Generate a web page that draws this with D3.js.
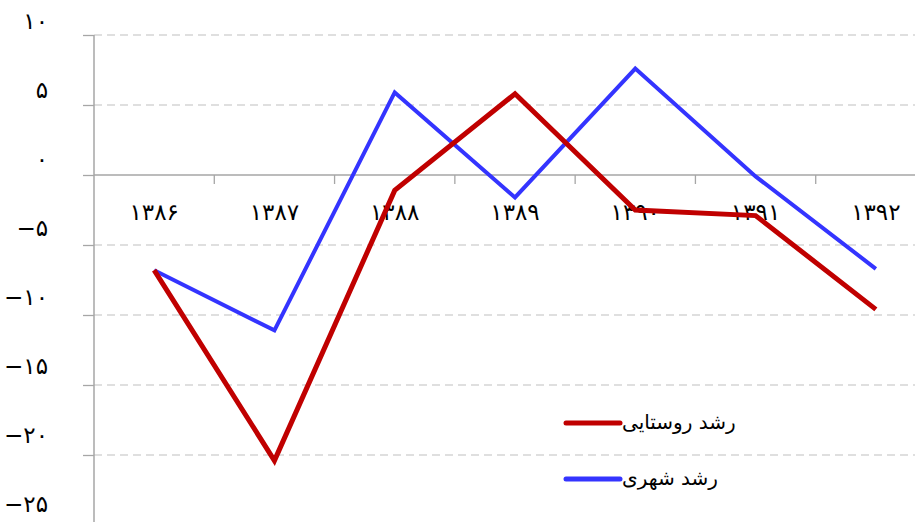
<!DOCTYPE html>
<html>
<head>
<meta charset="utf-8">
<script src="https://cdn.jsdelivr.net/npm/d3@7"></script>
<style>
  body { margin: 0; background: #fff; }
  svg { display: block; font-family: "DejaVu Sans", sans-serif; }
</style>
</head>
<body>
<svg id="chart" width="915" height="522"></svg>
<script>
// Years (Persian digits) and the two growth series.
var years = ["۱۳۸۶", "۱۳۸۷", "۱۳۸۸", "۱۳۸۹", "۱۳۹۰", "۱۳۹۱", "۱۳۹۲"];
var rural = [-6.8, -20.4, -1.1, 5.8, -2.5, -2.9, -9.6];
var urban = [-6.8, -11.1, 5.9, -1.6, 7.6, -0.1, -6.7];
var yTicks = [10, 5, 0, -5, -10, -15, -20, -25];
var yTickLabels = ["۱۰", "۵", "۰", "−۵", "−۱۰", "−۱۵", "−۲۰", "−۲۵"];
var seriesNames = ["رشد روستایی", "رشد شهری"];
var seriesColors = ["#c00000", "#3434ff"];

var svg = d3.select("#chart");

// Band scale runs past the right edge of the picture (it is clipped there).
var x = d3.scaleBand().domain(years).range([94, 936]);
var y = d3.scaleLinear().domain([-25, 10]).range([525, 35]);
// the tick labels sit a little above their grid lines, spaced slightly tighter
var yLabel = d3.scaleLinear().domain([-25, 10]).range([505, 22]);

// dashed grid lines
svg.append("g")
  .selectAll("line")
  .data(yTicks.filter(function(d){ return d != 0; }))
  .enter().append("line")
  .attr("x1", 94).attr("x2", 915)
  .attr("y1", function(d){ return y(d); })
  .attr("y2", function(d){ return y(d); })
  .attr("stroke", "#c0c0c0")
  .attr("stroke-width", 1.2)
  .attr("stroke-dasharray", "8,5");

// y axis
var yAxis = d3.axisLeft(y)
  .tickValues(yTicks)
  .tickSize(11)
  .tickFormat("");
var yg = svg.append("g").attr("transform", "translate(94,0)").call(yAxis);
yg.select(".domain").remove();
yg.selectAll(".tick line").attr("stroke", "#a6a6a6").attr("stroke-width", 1.3);
yg.append("line")
  .attr("x1", 0).attr("x2", 0)
  .attr("y1", y(10)).attr("y2", 522)
  .attr("stroke", "#a6a6a6").attr("stroke-width", 1.5);

svg.append("g")
  .selectAll("text")
  .data(yTicks)
  .enter().append("text")
  .attr("x", 48)
  .attr("y", function(d){ return yLabel(d); })
  .attr("text-anchor", "end")
  .attr("dominant-baseline", "middle")
  .style("font-size", "23px")
  .style("direction", "ltr")
  .text(function(d, i){ return yTickLabels[i]; });

// x axis on the zero line, ticks at band boundaries
var xg = svg.append("g");
xg.append("line")
  .attr("x1", 94).attr("x2", 915)
  .attr("y1", y(0)).attr("y2", y(0))
  .attr("stroke", "#a6a6a6").attr("stroke-width", 1.5);
xg.selectAll(".xtick")
  .data(years.slice(1))
  .enter().append("line")
  .attr("class", "xtick")
  .attr("x1", function(d){ return x(d); })
  .attr("x2", function(d){ return x(d); })
  .attr("y1", y(0)).attr("y2", y(0) + 9)
  .attr("stroke", "#a6a6a6").attr("stroke-width", 1.3);
xg.selectAll(".xlabel")
  .data(years)
  .enter().append("text")
  .attr("class", "xlabel")
  .attr("x", function(d){ return x(d) + x.bandwidth() / 2; })
  .attr("y", 213)
  .attr("text-anchor", "middle")
  .attr("dominant-baseline", "middle")
  .style("font-size", "23px")
  .text(function(d){ return d; });

// lines
var line = d3.line()
  .x(function(d, i){ return x(years[i]) + x.bandwidth() / 2; })
  .y(function(d){ return y(d); });

svg.append("path")
  .datum(urban)
  .attr("d", line)
  .attr("fill", "none")
  .attr("stroke", seriesColors[1])
  .attr("stroke-width", 4)
  .attr("stroke-linejoin", "miter");

svg.append("path")
  .datum(rural)
  .attr("d", line)
  .attr("fill", "none")
  .attr("stroke", seriesColors[0])
  .attr("stroke-width", 5)
  .attr("stroke-linejoin", "miter");

// legend
var legend = svg.append("g")
  .selectAll("g")
  .data(seriesNames)
  .enter().append("g")
  .attr("transform", function(d, i){ return "translate(566," + (423 + i * 56) + ")"; });

legend.append("line")
  .attr("x1", 0).attr("x2", 54)
  .attr("stroke", function(d, i){ return seriesColors[i]; })
  .attr("stroke-width", 5)
  .attr("stroke-linecap", "round");

legend.append("text")
  .attr("x", 56)
  .attr("y", 0)
  .attr("dominant-baseline", "middle")
  .attr("text-anchor", "start")
  .style("font-size", "20px")
  .style("direction", "ltr")
  .text(function(d){ return d; });
</script>
</body>
</html>
